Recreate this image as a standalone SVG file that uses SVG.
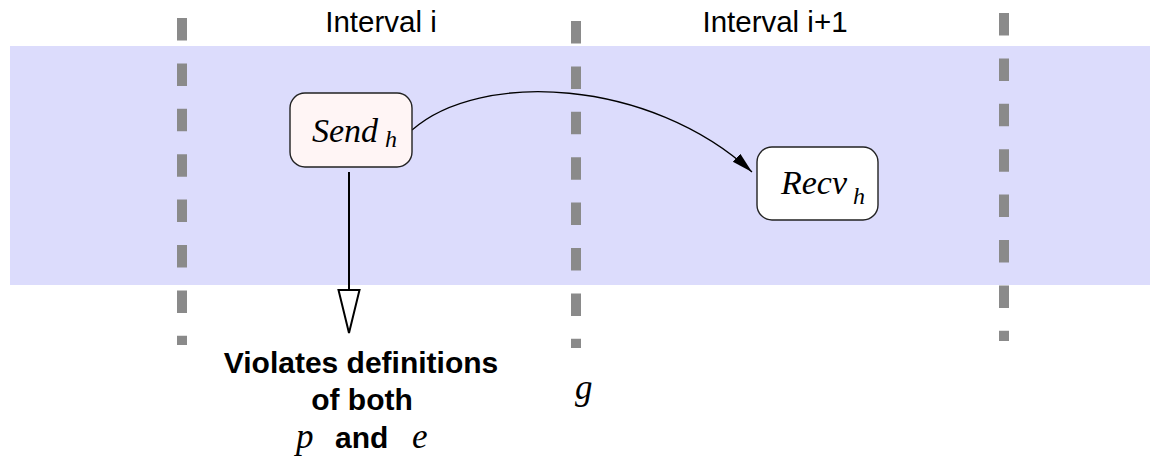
<svg xmlns="http://www.w3.org/2000/svg" width="1150" height="460" viewBox="0 0 1150 460">
<style>
.band{fill:#dcdcfc}
.div{stroke:#8a8a8a;stroke-width:10;stroke-dasharray:22.5 22.9;fill:none}
.node{stroke:#222;stroke-width:1.4}
.lbl{font-family:"Liberation Sans",Arial,sans-serif;font-size:29.5px;fill:#000}
.bold{font-family:"Liberation Sans",Arial,sans-serif;font-size:30px;font-weight:bold;fill:#000}
.math{font-family:"Liberation Serif","Times New Roman",serif;font-style:italic;fill:#000}
</style>
<defs>
<marker id="ah" markerWidth="22" markerHeight="12" refX="21" refY="5.5" orient="auto" markerUnits="userSpaceOnUse">
<path d="M0,0 L21,5.5 L0,11 Z" fill="#000"/>
</marker>
</defs>
<rect class="band" x="10" y="46" width="1140" height="239"/>
<g id="dividers">
<line class="div" x1="182" y1="18" x2="182" y2="345"/>
<line class="div" x1="576" y1="21" x2="576" y2="348"/>
<line class="div" x1="1004" y1="13" x2="1004" y2="341"/>
</g>
<g id="labels">
<text class="lbl" x="381" y="32" text-anchor="middle">Interval i</text>
<text class="lbl" x="775" y="32" text-anchor="middle">Interval i+1</text>
</g>
<g id="connectors">
<path d="M412,130 C480,70 650,78 752,172" fill="none" stroke="#000" stroke-width="1.3" marker-end="url(#ah)"/>
<line x1="349" y1="172" x2="349" y2="290" stroke="#000" stroke-width="2"/>
<path d="M338.5,290 L359.5,290 L349,333 Z" fill="#fff" stroke="#000" stroke-width="2"/>
</g>
<g id="send">
<rect class="node" x="290" y="93" width="122" height="74" rx="15" fill="#fff5f5"/>
<text class="math" x="312" y="142" font-size="34">Send</text>
<text class="math" x="385" y="147" font-size="24">h</text>
</g>
<g id="recv">
<rect class="node" x="757" y="147" width="121" height="73" rx="15" fill="#fff"/>
<text class="math" x="781" y="194" font-size="34">Recv</text>
<text class="math" x="853" y="204" font-size="24">h</text>
</g>
<g id="note">
<text class="bold" x="361" y="373" text-anchor="middle">Violates definitions</text>
<text class="bold" x="362" y="410" text-anchor="middle">of both</text>
<text class="math" x="296" y="448" font-size="35">p</text>
<text class="bold" x="335" y="448">and</text>
<text class="math" x="412" y="448" font-size="35">e</text>
</g>
<g id="g-label">
<text class="math" x="575" y="399" font-size="35">g</text>
</g>
</svg>
